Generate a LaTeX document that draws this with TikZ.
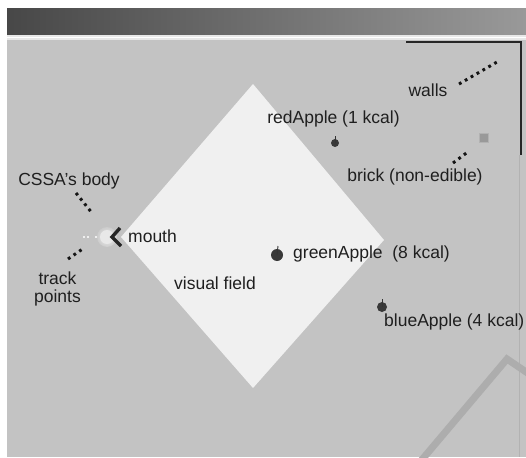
\documentclass[tikz,border=0pt]{standalone}
\usepackage{fontspec}
\setmainfont{Liberation Sans}
\begin{document}
\begin{tikzpicture}[x=1pt,y=-1pt,
  lbl/.style={font=\fontsize{17.5}{18}\selectfont, text=black!88, inner sep=0pt},
  leader/.style={line width=3pt, dash pattern=on 2.8pt off 4pt, black!92},
  apple/.style={circle, fill=black!78, inner sep=0pt},
  stem/.style={line width=0.9pt, black!80},
  wall/.style={line width=2pt, black!85},
]
\useasboundingbox (0,0) rectangle (526,457);
\fill[white] (0,0) rectangle (526,457);
% window title bar
\shade[left color=black!72, right color=black!40] (7,9) rectangle (526,35);
\fill[black!9] (7,35) rectangle (526,40);
\draw[white, line width=0.8pt] (7,37) -- (526,37);
% arena floor
\fill[black!23.5] (7,40) rectangle (526,457);
\draw[black!30, line width=0.7pt] (519,155) -- (519,457);

% walls
\draw[wall] (406,42) -- (521,42) -- (521,155);
\draw[line width=7pt, black!32] (420,462) -- (507,359) -- (532,376);

% visual field
\fill[black!6] (253,84) -- (384,240) -- (253,388) -- (121,237) -- cycle;
\node[lbl] (field) at (215,283) {visual field};

% agent body, mouth and track points
\shade[inner color=black!6, outer color=black!20] (107,237) circle (10);
\node[circle, fill=black!9, inner sep=0pt, minimum size=14pt] (body) at (107,237) {};
\foreach \px in {84,88,96} \fill[white] (\px,237) circle (1.1);
\draw[line width=3.4pt, black!85, line join=miter] (120,228) -- (112,237) -- (121,246);
\node[lbl, anchor=west] (mouth) at (128,236) {mouth};

% objects
\node[apple, minimum size=8pt] (red) at (335,143) {};
\draw[stem] (red.center) -- ++(0,-7);
\node[apple, minimum size=12pt] (green) at (277,255) {};
\draw[stem] (green.center) -- ++(1,-9);
\node[apple, minimum size=10pt] (blue) at (382,307) {};
\draw[stem] (blue.center) -- ++(0,-8);
\node[fill=black!40, draw=black!30, minimum size=9pt, inner sep=0pt] (brick) at (484,138) {};

% labels
\node[lbl] (wallslbl) at (428,90) {walls};
\node[lbl] (redlbl) at (333.5,119) {redApple (1 kcal)};
\node[lbl] (bricklbl) at (415,177) {brick (non-edible)};
\node[lbl, anchor=west] (greenlbl) at (293,254) {greenApple\ \ (8 kcal)};
\node[lbl, anchor=west] (bluelbl) at (384,322) {blueApple (4 kcal)};
\node[lbl] (bodylbl) at (69,181) {CSSA's body};
\node[lbl, align=center] (tracklbl) at (57.5,289) {track\\[0pt]points};

% leader lines
\coordinate (w1) at (459,84);  \coordinate (w2) at (497,62);
\coordinate (b1) at (453,163); \coordinate (b2) at (469,151);
\coordinate (c1) at (76,193);  \coordinate (c2) at (92,213);
\coordinate (t1) at (68,259);  \coordinate (t2) at (84,248);
\draw[leader] (w1) -- (w2);
\draw[leader] (b1) -- (b2);
\draw[leader] (c1) -- (c2);
\draw[leader] (t1) -- (t2);
\end{tikzpicture}
\end{document}
